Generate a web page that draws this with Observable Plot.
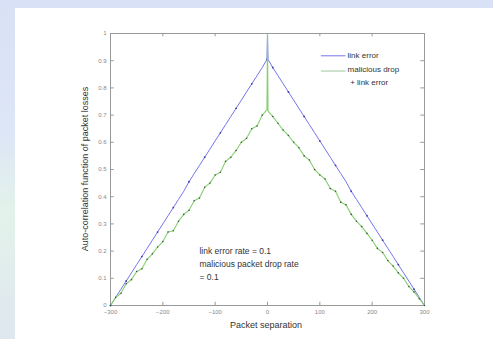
<!DOCTYPE html>
<html>
<head>
<meta charset="utf-8">
<script src="https://cdn.jsdelivr.net/npm/d3@7"></script>
<script src="https://cdn.jsdelivr.net/npm/@observablehq/plot@0.6"></script>
<style>
  html, body { margin: 0; padding: 0; }
  body { width: 493px; height: 339px; position: relative; overflow: hidden;
         background: linear-gradient(180deg, #d9e1f6 0%, #dde6f6 40%, #e3f2ea 62%, #dfe7ef 100%);
         font-family: "Liberation Sans", Arial, sans-serif; }
  #panel { position: absolute; left: 15px; top: 8px; width: 478px; height: 331px; background: #ffffff; }
  #chart { position: absolute; left: 0; top: 0; }
  .lbl { position: absolute; color: #333; font-size: 9px; white-space: nowrap; }
</style>
</head>
<body>
<div id="panel"></div>
<div id="chart"></div>
<div class="lbl" style="left:266px; top:320px; transform:translateX(-50%);">Packet separation</div>
<div class="lbl" style="left:85px; top:169px; transform:translate(-50%,-50%) rotate(-90deg);">Auto-correlation function of packet losses</div>
<script>
const lags = [-300,-290,-280,-270,-260,-250,-240,-230,-220,-210,-200,-190,-180,-170,-160,-150,-140,-130,-120,-110,-100,-90,-80,-70,-60,-50,-40,-30,-20,-10,-1,0,1,10,20,30,40,50,60,70,80,90,100,110,120,130,140,150,160,170,180,190,200,210,220,230,240,250,260,270,280,290,300];
const linkError = [0,0.03,0.06,0.09,0.12,0.15,0.18,0.21,0.24,0.27,0.30,0.33,0.36,0.39,0.42,0.455,0.485,0.515,0.545,0.575,0.605,0.635,0.665,0.695,0.725,0.755,0.785,0.815,0.845,0.875,0.905,1,0.905,0.875,0.845,0.815,0.785,0.755,0.725,0.695,0.665,0.635,0.605,0.575,0.545,0.515,0.485,0.455,0.42,0.39,0.36,0.33,0.30,0.27,0.24,0.21,0.18,0.15,0.12,0.09,0.06,0.03,0];
const maliciousDrop = [0,0.03,0.045,0.08,0.095,0.125,0.135,0.17,0.19,0.215,0.235,0.27,0.275,0.31,0.335,0.35,0.385,0.395,0.435,0.45,0.48,0.49,0.53,0.545,0.57,0.6,0.615,0.65,0.66,0.7,0.72,1,0.715,0.695,0.67,0.645,0.625,0.6,0.58,0.55,0.535,0.5,0.48,0.465,0.43,0.42,0.38,0.37,0.335,0.31,0.29,0.265,0.24,0.21,0.195,0.165,0.145,0.12,0.1,0.07,0.05,0.025,0];
const xTicks = [-300,-200,-100,0,100,200,300];
const yTicks = [0,0.1,0.2,0.3,0.4,0.5,0.6,0.7,0.8,0.9,1];
const seriesNames = ["link error", "malicious drop", "+ link error"];
const noteLines = ["link error rate = 0.1", "malicious packet drop rate", "= 0.1"];

const blue = lags.map((x, i) => ({x, y: linkError[i]}));
const green = lags.map((x, i) => ({x, y: maliciousDrop[i]}));
const blueDots = blue.filter((d, i) => i % 3 === 0 && d.x !== 0);
const greenDots = green.filter(d => d.x !== 0 && Math.abs(d.x) !== 1);

const legendLines = [
  {x1: 103, x2: 150, y: 0.918, c: "#7474ee"},
  {x1: 103, x2: 150, y: 0.862, c: "#9cc79c"}
];
const legendText = [
  {x: 153, y: 0.92, t: seriesNames[0]},
  {x: 153, y: 0.868, t: seriesNames[1]},
  {x: 158, y: 0.82, t: seriesNames[2]}
];
const notes = noteLines.map((t, i) => ({x: -130, y: 0.2 - i * 0.048, t}));

const chart = Plot.plot({
  width: 493,
  height: 339,
  marginLeft: 110,
  marginRight: 69,
  marginTop: 33,
  marginBottom: 34,
  style: {background: "transparent", fontFamily: "Liberation Sans, Arial, sans-serif", fontSize: "6px", color: "#888"},
  x: {domain: [-300, 300]},
  y: {domain: [0, 1]},
  marks: [
    Plot.frame({stroke: "#999"}),
    Plot.ruleX(xTicks, {x: d => d, y1: 0, y2: 0.012, stroke: "#999"}),
    Plot.ruleX(xTicks, {x: d => d, y1: 1, y2: 0.988, stroke: "#999"}),
    Plot.ruleY(yTicks, {y: d => d, x1: -300, x2: -293, stroke: "#999"}),
    Plot.ruleY(yTicks, {y: d => d, x1: 300, x2: 293, stroke: "#999"}),
    Plot.axisX(xTicks, {tickSize: 0, tickPadding: 4, fill: "#888", label: null}),
    Plot.axisY(yTicks, {tickSize: 0, tickPadding: 4, fill: "#888", label: null, tickFormat: d => d === 0 || d === 1 ? String(d) : d3.format(".1f")(d)}),
    Plot.line(blue, {x: "x", y: "y", stroke: "#7474ee", strokeWidth: 1}),
    Plot.dot(blueDots, {x: "x", y: "y", r: 0.9, fill: "#3d3da8", stroke: "none"}),
    Plot.line(green, {x: "x", y: "y", stroke: "#86d070", strokeWidth: 1.1}),
    Plot.dot(greenDots, {x: "x", y: "y", r: 0.8, fill: "#3a5a3a", stroke: "none"}),
    Plot.ruleY(legendLines, {x1: "x1", x2: "x2", y: "y", stroke: "c", strokeWidth: 1}),
    Plot.text(legendText, {x: "x", y: "y", text: "t", textAnchor: "start", fontSize: 8, fill: "#333"}),
    Plot.text(notes, {x: "x", y: "y", text: "t", textAnchor: "start", fontSize: 8.5, fill: "#333"})
  ]
});
document.getElementById("chart").appendChild(chart);
</script>
</body>
</html>
